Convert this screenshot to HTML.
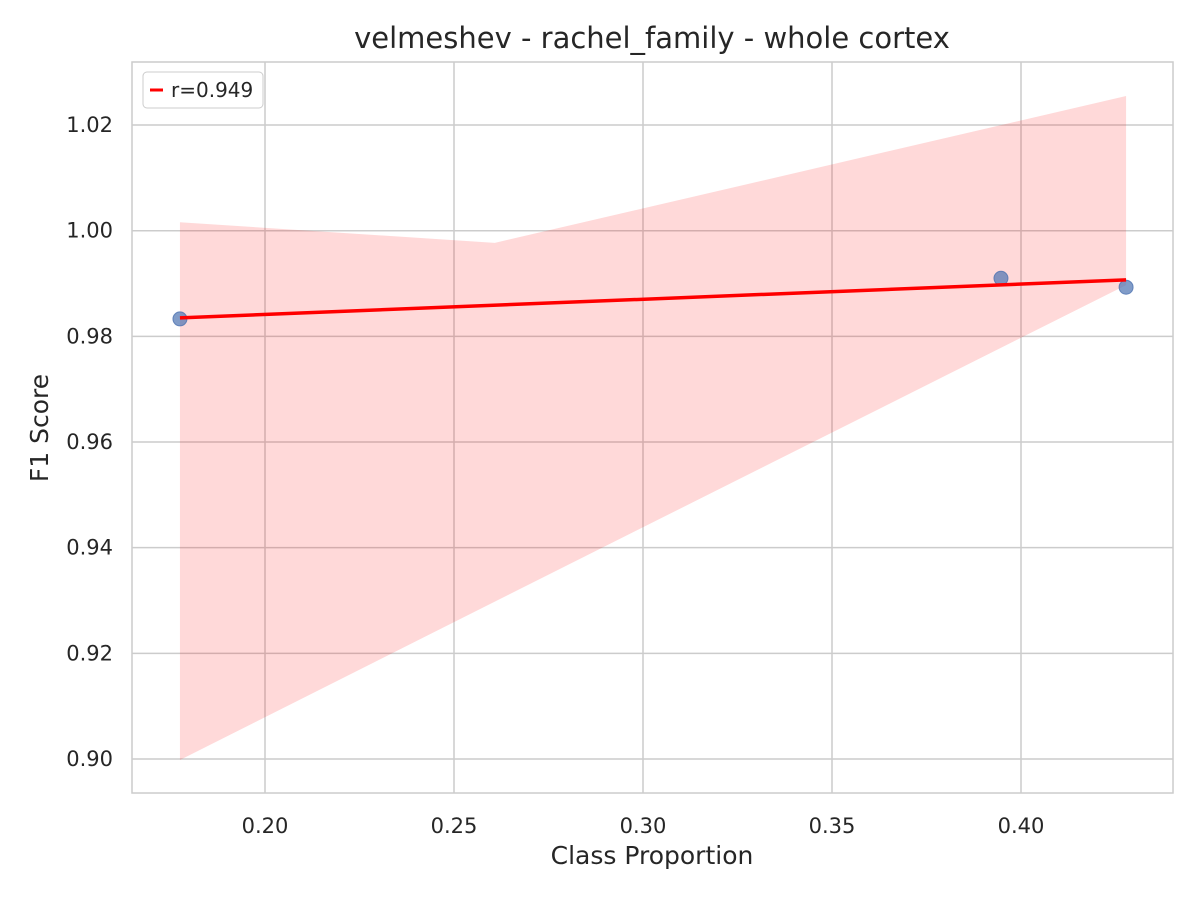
<!DOCTYPE html>
<html><head><meta charset="utf-8"><style>
body{margin:0;background:#fff}
text{font-family:"DejaVu Sans","Liberation Sans",sans-serif;fill:#262626}
</style></head><body>
<svg id="chart" width="1200" height="900" xmlns="http://www.w3.org/2000/svg">
<rect width="1200" height="900" fill="#fff"/>
<g id="grid"></g>
<g id="band"></g>
<g id="pts"></g>
<g id="line"></g>
<rect x="132" y="62" width="1041" height="731" fill="none" stroke="#cccccc" stroke-width="1.5"/>
<g id="ticks"></g>
<text x="652" y="48" text-anchor="middle" font-size="29">velmeshev - rachel_family - whole cortex</text>
<text x="652" y="864" text-anchor="middle" font-size="25">Class Proportion</text>
<text transform="translate(48,428) rotate(-90)" text-anchor="middle" font-size="25">F1 Score</text>
<g>
<rect x="143" y="72" width="120" height="36" rx="4" fill="#fff" fill-opacity="0.8" stroke="#cccccc"/>
<line x1="150" y1="90" x2="163" y2="90" stroke="red" stroke-width="3"/>
<text x="171" y="97" font-size="20">r=0.949</text>
</g>
</svg>
<script>
const xTicks=[0.20,0.25,0.30,0.35,0.40];
const yTicks=[0.90,0.92,0.94,0.96,0.98,1.00,1.02];
const ptX=[0.1775,0.3947,0.4278];
const ptY=[0.9833,0.9910,0.9893];
const lineX=[0.1775,0.4278];
const lineY=[0.9835,0.9907];
const bandX=[0.1775,0.2608,0.4278];
const bandUpper=[1.0016,0.9977,1.0255];
const bandLower=[0.8998,0.9298,0.9897];
const xs=v=>265+(v-0.2)*3780;
const ys=v=>759-(v-0.9)*5283;
const NS="http://www.w3.org/2000/svg";
function mk(tag,attrs,parent){const e=document.createElementNS(NS,tag);for(const k in attrs)e.setAttribute(k,attrs[k]);document.getElementById(parent).appendChild(e);return e;}
xTicks.forEach(t=>{
 const g=mk('line',{x1:xs(t),x2:xs(t),y1:62,y2:793,stroke:'#cccccc','stroke-width':1.5},'grid');
 
 
 const l=mk('text',{x:xs(t),y:833,'text-anchor':'middle','font-size':21},'ticks');
 l.textContent=t.toFixed(2);
 
 
});
yTicks.forEach(t=>{
 const g=mk('line',{x1:132,x2:1173,y1:ys(t),y2:ys(t),stroke:'#cccccc','stroke-width':1.5},'grid');
 
 
 const l=mk('text',{x:113,y:ys(t)+7,'text-anchor':'end','font-size':21},'ticks');
 l.textContent=t.toFixed(2);
 
 
});
let d='M'+bandX.map((x,i)=>xs(x)+','+ys(bandUpper[i])).join(' L');
for(let i=bandX.length-1;i>=0;i--)d+=' L'+xs(bandX[i])+','+ys(bandLower[i]);
const b=mk('path',{d:d+'Z',fill:'#ff0000','fill-opacity':0.15},'band');


ptX.forEach((x,i)=>{
 const c=mk('circle',{cx:xs(x),cy:ys(ptY[i]),r:7,fill:'#4c72b0','fill-opacity':0.7,stroke:'#4c72b0','stroke-opacity':0.8},'pts');
 
 
});
const rl=mk('line',{x1:xs(lineX[0]),y1:ys(lineY[0]),x2:xs(lineX[1]),y2:ys(lineY[1]),stroke:'red','stroke-width':3.5},'line');


</script>
</body></html>
